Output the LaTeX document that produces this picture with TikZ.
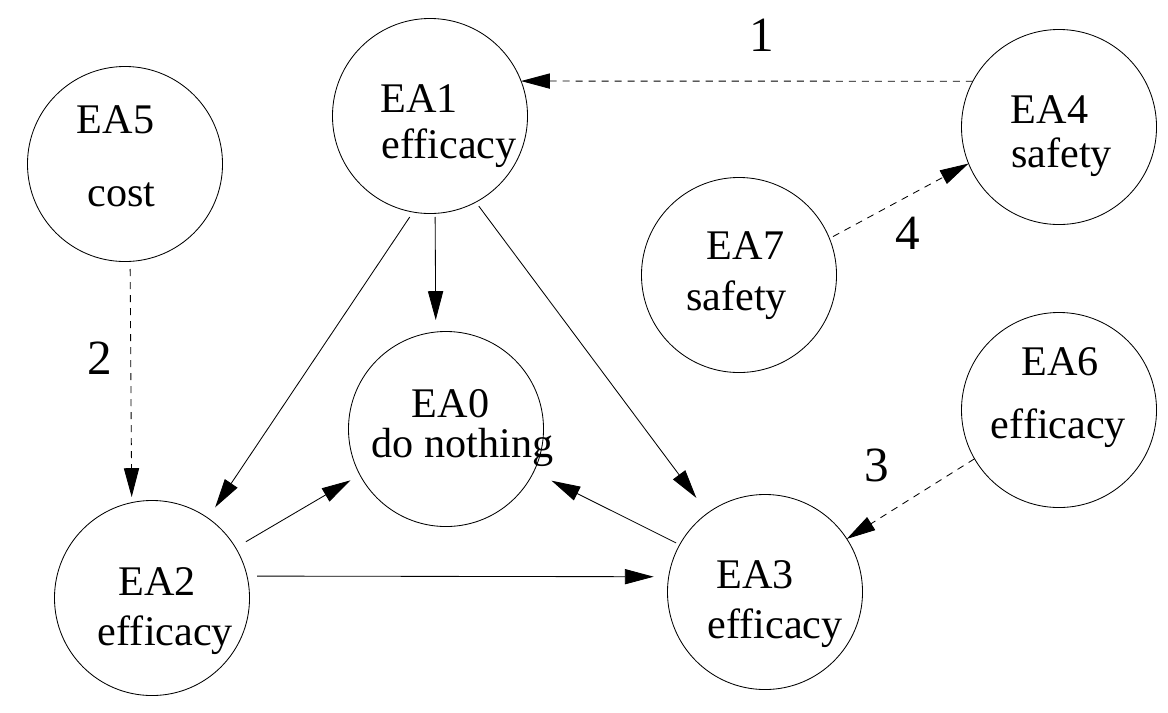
\documentclass[tikz,border=0pt]{standalone}
\usepackage{fontspec}
\setmainfont{Liberation Serif}
\usetikzlibrary{arrows.meta}

\begin{document}
\begin{tikzpicture}
[x=0.025cm, y=-0.025cm,%
  nodeDecorate/.style={shape=circle,draw,line width=0.6pt,inner sep=0pt,outer sep=0pt,minimum size=4.875cm},
  textDecorate/.style={anchor=base,inner sep=0pt,font=\fontsize{30}{34}\selectfont},
  numDecorate/.style={anchor=center,inner sep=0pt,font=\fontsize{35}{40}\selectfont},
  lineDecorate/.style={-{Triangle[length=0.72cm,width=0.38cm]},line width=0.6pt},
  dashDecorate/.style={lineDecorate,dash pattern=on 5pt off 4.25pt}]
\useasboundingbox (0,0) rectangle (1168,712);
%% alternatives
\foreach \nodename/\x/\y in {
  EA0/446/429, EA1/430/116, EA2/152/598, EA3/765/592,
  EA4/1059/127, EA5/125/164, EA6/1059/410, EA7/739/275}
{
  \node (\nodename) at (\x,\y) [nodeDecorate] {};
}
%% texts inside the circles
\foreach \textname/\x/\y/\txt in {
  t0a/450.5/417/EA0, t0b/462.5/457/do nothing,
  t1a/419/112/EA1, t1b/449/158/efficacy,
  t2a/157/595/EA2, t2b/165.5/645/efficacy,
  t3a/755/588/EA3, t3b/775/638/efficacy,
  t4a/1049.5/123/EA4, t4b/1061.5/167/safety,
  t5a/115.5/133/EA5, t5b/121.5/206/cost,
  t6a/1060/375/EA6, t6b/1058.5/438/efficacy,
  t7a/745.5/259/EA7, t7b/736.5/310/safety}
{
  \node (\textname) at (\x,\y) [textDecorate] {\txt};
}
%% numbers
\foreach \numname/\x/\y/\txt in {
  n1/762/35/1, n2/100/358/2, n3/877/465/3, n4/908/233/4}
{
  \node (\numname) at (\x,\y) [numDecorate] {\txt};
}
%% solid arrows
\path
\foreach \startnode/\sa/\endnode/\ea/\gs/\ge in {
  EA1/273/EA0/96/0.09cm/0.3cm, EA1/260/EA2/55/0.15cm/0.325cm,
  EA1/298/EA3/126/0.125cm/0.475cm, EA2/31/EA0/208/0.3cm/0.275cm,
  EA3/151/EA0/334/0.1cm/0.5cm, EA2/13/EA3/171/0.25cm/0.375cm}
{
  (\startnode.\sa) edge[lineDecorate,shorten <=\gs,shorten >=\ge] (\endnode.\ea)
};
%% dashed arrows
\path
\foreach \startnode/\sa/\endnode/\ea/\gs/\ge in {
  EA4/152/EA1/21/0pt/0pt, EA7/22/EA4/202/0.1cm/0pt,
  EA5/273/EA2/102/0.19cm/0.14cm, EA6/210/EA3/33/0pt/0pt}
{
  (\startnode.\sa) edge[dashDecorate,shorten <=\gs,shorten >=\ge] (\endnode.\ea)
};
\end{tikzpicture}
\end{document}
